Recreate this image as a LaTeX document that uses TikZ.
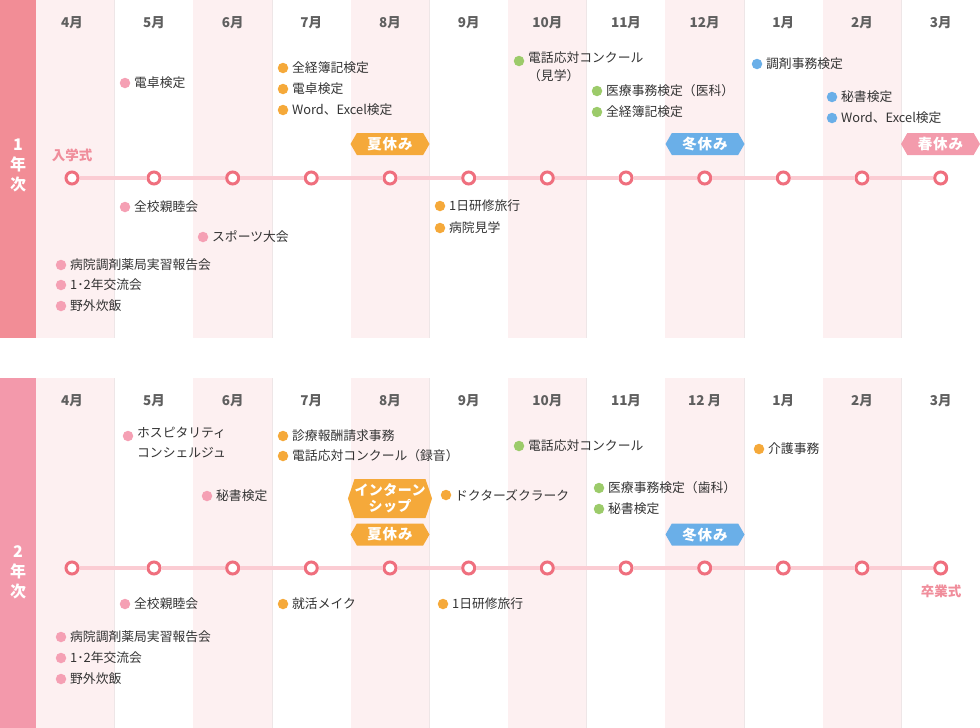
\documentclass[tikz,border=0pt]{standalone}
\usepackage{fontspec}
\setmainfont{Noto Sans CJK JP}
\usetikzlibrary{shapes.symbols}
\definecolor{barA}{HTML}{F28D96}
\definecolor{barB}{HTML}{F399AB}
\definecolor{colbg}{HTML}{FDF0F1}
\definecolor{colline}{HTML}{EEE6E7}
\definecolor{tlc}{HTML}{EF6F7E}
\definecolor{tll}{HTML}{FBCCD3}
\definecolor{dpink}{HTML}{F5A0B4}
\definecolor{dorange}{HTML}{F5A93A}
\definecolor{dgreen}{HTML}{9CCB6A}
\definecolor{dblue}{HTML}{6AAFE8}
\definecolor{tpink}{HTML}{F39BAC}
\definecolor{ptext}{HTML}{F08D9B}
\definecolor{mtext}{HTML}{5F5F5F}
\definecolor{etext}{HTML}{333333}
\tikzset{
  evdot/.style={circle,inner sep=0pt,minimum size=10.5pt,draw=none},
  evtxt/.style={anchor=west,inner sep=0pt,text=etext,font=\fontsize{12.8}{20}\selectfont,align=left},
  tlnode/.style={circle,draw=tlc,line width=3pt,fill=white,inner sep=0pt,minimum size=12pt},
  tlline/.style={draw=tll,line width=4pt},
  month/.style={inner sep=0pt,text=mtext,font=\bfseries\fontsize{13.5}{15}\selectfont},
  tagbox/.style={signal,signal to=west and east,signal pointer angle=120,draw=none,minimum width=79pt,minimum height=22pt,inner sep=0pt,text=white,font=\bfseries\fontsize{14.5}{17}\selectfont\addfontfeatures{LetterSpace=6},align=center},
  yearlbl/.style={inner sep=0pt,text=white,align=center,font=\bfseries\fontsize{16}{20}\selectfont},
  cerem/.style={inner sep=0pt,text=ptext,font=\bfseries\fontsize{13.5}{16}\selectfont}
}
\newcommand\ev[5]{\node[evdot,fill=#4] (#1) at (#2,#3) {}; \node[evtxt] (#1t) at ([xshift=3.5pt]#1.east) {#5};}
\begin{document}
\begin{tikzpicture}[x=1pt,y=-1pt]
\useasboundingbox (0,0) rectangle (980,728);
% backgrounds
\foreach \ya/\yb in {0/338,378/728}{
  \foreach \c in {0,2,4,6,8,10}{
    \fill[colbg] ({36+78.667*\c},\ya) rectangle ({36+78.667*(\c+1)},\yb);
    \draw[colline,line width=0.8pt] ({36+78.667*(\c+1)},\ya) -- ({36+78.667*(\c+1)},\yb);
  }
}
\fill[barA] (0,0) rectangle (36,338);
\fill[barB] (0,378) rectangle (36,728);
\node[yearlbl] (y1) at (18,165) {1\\年\\次};
\node[yearlbl] (y2) at (18,572) {2\\年\\次};
% months and timeline
\foreach \i/\x/\m/\mm in {1/72/4月/4月,2/154/5月/5月,3/232.7/6月/6月,4/311.3/7月/7月,5/390/8月/8月,6/468.7/9月/9月,7/547.3/10月/10月,8/626/11月/11月,9/704.7/12月/12 月,10/783.3/1月/1月,11/862/2月/2月,12/940.7/3月/3月}{
  \node[month] (ma\i) at (\x,23) {\m};
  \node[month] (mb\i) at (\x,401) {\mm};
  \node[tlnode] (a\i) at (\x,178) {};
  \node[tlnode] (b\i) at (\x,568) {};
}
\foreach \i [evaluate=\i as \j using int(\i+1)] in {1,...,11}{
  \draw[tlline] (a\i) -- (a\j);
  \draw[tlline] (b\i) -- (b\j);
}
\node[cerem] (nyu) at (72,155) {入学式};
\node[cerem] (sotsu) at (941,591) {卒業式};
% tags
\node[tagbox,fill=dorange] (t1) at (390,144) {夏休み};
\node[tagbox,fill=dblue] (t2) at (705,144) {冬休み};
\node[tagbox,fill=tpink] (t3) at (940.5,144) {春休み};
\node[tagbox,fill=dorange,minimum height=39pt,signal pointer angle=143,font=\bfseries\fontsize{14}{16.5}\selectfont\addfontfeatures{LetterSpace=3}] (t4) at (390,498.5) {インターン\\シップ};
\node[tagbox,fill=dorange] (t5) at (390,534.5) {夏休み};
\node[tagbox,fill=dblue] (t6) at (705,534.5) {冬休み};
% row 1 events
\ev{p1}{125}{83}{dpink}{電卓検定}
\ev{p2}{283}{68}{dorange}{全経簿記検定}
\ev{p3}{283}{89}{dorange}{電卓検定}
\ev{p4}{283}{110}{dorange}{Word、Excel検定}
\node[evdot,fill=dgreen] (p5) at (519,61) {};
\node[evtxt,anchor=north west,font=\fontsize{12.8}{18}\selectfont] (p5t) at ([xshift=3.5pt,yshift=9pt]p5.east) {電話応対コンクール\\（見学）};
\ev{p6}{597}{91}{dgreen}{医療事務検定（医科）}
\ev{p7}{597}{112}{dgreen}{全経簿記検定}
\ev{p8}{757}{64}{dblue}{調剤事務検定}
\ev{p9}{832}{97}{dblue}{秘書検定}
\ev{p10}{832}{118}{dblue}{Word、Excel検定}
\ev{p11}{125}{207}{dpink}{全校親睦会}
\ev{p12}{203}{237}{dpink}{スポーツ大会}
\ev{p13}{61}{265}{dpink}{病院調剤薬局実習報告会}
\ev{p14}{61}{285}{dpink}{1･2年交流会}
\ev{p15}{61}{306}{dpink}{野外炊飯}
\ev{p16}{440}{206}{dorange}{1日研修旅行}
\ev{p17}{440}{228}{dorange}{病院見学}
% row 2 events
\node[evdot,fill=dpink] (q1) at (128,436) {};
\node[evtxt,anchor=north west] (q1t) at ([xshift=3.5pt,yshift=9.5pt]q1.east) {ホスピタリティ\\コンシェルジュ};
\ev{q2}{207}{496}{dpink}{秘書検定}
\ev{q3}{283}{436}{dorange}{診療報酬請求事務}
\ev{q4}{283}{456}{dorange}{電話応対コンクール（録音）}
\ev{q5}{446}{495}{dorange}{ドクターズクラーク}
\ev{q6}{519}{446}{dgreen}{電話応対コンクール}
\ev{q7}{599}{488}{dgreen}{医療事務検定（歯科）}
\ev{q8}{599}{509}{dgreen}{秘書検定}
\ev{q9}{759}{449}{dorange}{介護事務}
\ev{q10}{125}{604}{dpink}{全校親睦会}
\ev{q11}{283}{604}{dorange}{就活メイク}
\ev{q12}{443}{604}{dorange}{1日研修旅行}
\ev{q13}{61}{637}{dpink}{病院調剤薬局実習報告会}
\ev{q14}{61}{658}{dpink}{1･2年交流会}
\ev{q15}{61}{679}{dpink}{野外炊飯}
\end{tikzpicture}
\end{document}
